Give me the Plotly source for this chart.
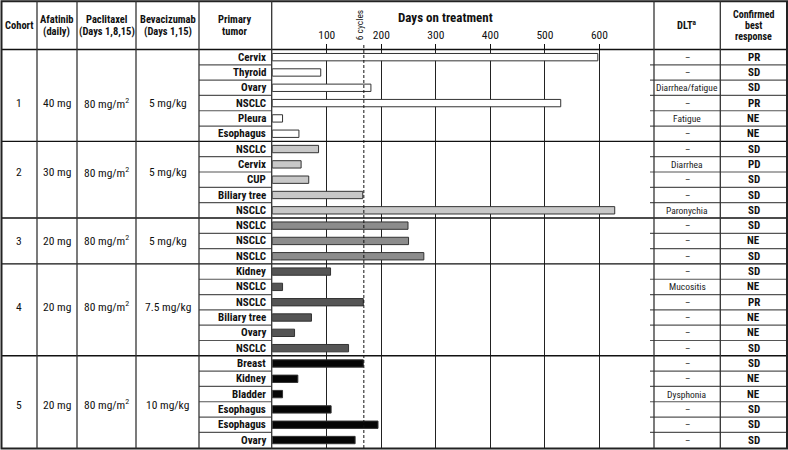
import plotly.graph_objects as go

W, H = 788, 450

cohorts = ["1", "2", "3", "4", "5"]
afatinib = ["40 mg", "30 mg", "20 mg", "20 mg", "20 mg"]
paclitaxel = ["80 mg/m<sup>2</sup>"] * 5
bevacizumab = ["5 mg/kg", "5 mg/kg", "5 mg/kg", "7.5 mg/kg", "10 mg/kg"]

tumors = [
    ["Cervix", "Thyroid", "Ovary", "NSCLC", "Pleura", "Esophagus"],
    ["NSCLC", "Cervix", "CUP", "Biliary tree", "NSCLC"],
    ["NSCLC", "NSCLC", "NSCLC"],
    ["Kidney", "NSCLC", "NSCLC", "Biliary tree", "Ovary", "NSCLC"],
    ["Breast", "Kidney", "Bladder", "Esophagus", "Esophagus", "Ovary"],
]
days = [
    [597, 89, 181, 529, 19, 49],
    [85, 53, 67, 166, 628],
    [249, 250, 278],
    [107, 19, 167, 72, 41, 140],
    [167, 47, 19, 108, 194, 152],
]
dlt = [
    ["–", "–", "Diarrhea/fatigue", "–", "Fatigue", "–"],
    ["–", "Diarrhea", "–", "–", "Paronychia"],
    ["–", "–", "–"],
    ["–", "Mucositis", "–", "–", "–", "–"],
    ["–", "–", "Dysphonia", "–", "–", "–"],
]
response = [
    ["PR", "SD", "SD", "PR", "NE", "NE"],
    ["SD", "PD", "SD", "SD", "SD"],
    ["SD", "NE", "SD"],
    ["SD", "NE", "PR", "NE", "NE", "SD"],
    ["SD", "NE", "NE", "SD", "SD", "SD"],
]
tick_vals = [100, 200, 300, 400, 500, 600]
six_cycles = 168
x_max = 700

colors = ["#ffffff", "#c8c8c8", "#8c8c8c", "#555555", "#050505"]
label_shift = [0.5, -0.5, 0.0, -0.2, 0.2]

FONT = "Roboto Condensed, Liberation Sans Narrow, DejaVu Sans Condensed, sans-serif"


def X(px):
    return px / W


def Y(py):
    return 1 - py / H


def note(x, y, text, size, xref="paper", yref="paper", xanchor="center", color="#111", **kw):
    d = dict(x=x, y=y, xref=xref, yref=yref, text=text, showarrow=False,
             xanchor=xanchor, yanchor="middle", font=dict(family=FONT, size=size, color=color))
    d.update(kw)
    return d


top_px, bot_px = 49.5, 447.7
n_rows = sum(len(t) for t in tumors)

fig = go.Figure()
shapes = []
ann = []

row = 0
for ci, c in enumerate(cohorts):
    n = len(tumors[ci])
    rows = list(range(row, row + n))
    fig.add_trace(go.Bar(
        x=days[ci], y=rows, orientation="h", width=0.48,
        marker=dict(color=colors[ci], line=dict(color="#333333", width=1)),
        showlegend=False, hoverinfo="x",
    ))
    mid = (rows[0] + rows[-1]) / 2 + label_shift[ci]
    for xc, txt in [(19, c), (57, afatinib[ci]), (106.5, paclitaxel[ci]), (167.5, bevacizumab[ci])]:
        ann.append(note(X(xc), mid, txt, 11.5, yref="y"))
    for k, r in enumerate(rows):
        ann.append(note(X(268), r, "<b>%s</b>" % tumors[ci][k], 11, yref="y", xanchor="right"))
        ann.append(note(X(687), r, dlt[ci][k], 9.5, yref="y", color="#222"))
        ann.append(note(X(753.5), r, "<b>%s</b>" % response[ci][k], 11, yref="y"))
        if k > 0:
            for x0, x1 in [(199, 271.7), (650, 787)]:
                shapes.append(dict(type="line", xref="paper", yref="y", x0=X(x0), x1=X(x1),
                                   y0=r - 0.5, y1=r - 0.5, line=dict(color="#555", width=1.2)))
    if ci > 0:
        shapes.append(dict(type="line", xref="paper", yref="y", x0=X(1.5), x1=X(787),
                           y0=row - 0.5, y1=row - 0.5, line=dict(color="#111", width=1.4)))
    row += n

# header line and outer border
shapes.append(dict(type="line", xref="paper", yref="paper", x0=X(1.5), x1=X(787),
                   y0=Y(top_px), y1=Y(top_px), line=dict(color="#111", width=1.4)))
shapes.append(dict(type="rect", xref="paper", yref="paper", x0=X(1.5), x1=X(787),
                   y0=Y(448.5), y1=Y(1.2), line=dict(color="#222", width=2)))
for xv in [37, 77, 136, 199, 271.7, 654, 720.3]:
    shapes.append(dict(type="line", xref="paper", yref="paper", x0=X(xv), x1=X(xv),
                       y0=Y(448.5), y1=Y(1.2), line=dict(color="#333", width=1.3)))
# 6 cycles dashed line
shapes.append(dict(type="line", xref="x", yref="paper", x0=six_cycles, x1=six_cycles,
                   y0=Y(448), y1=Y(45), line=dict(color="#111", width=1, dash="3px,2px")))
ann.append(note(six_cycles, Y(24.5), "6 cycles", 9.5, xref="x", textangle=-90, xshift=-4))

# headers
hdr = [
    (19, 25, "<b>Cohort</b>", 10.5),
    (57, 19.5, "<b>Afatinib</b>", 10.5), (57, 31.5, "<b>(daily)</b>", 10.5),
    (106.5, 19.5, "<b>Paclitaxel</b>", 10.5), (106.5, 31.5, "<b>(Days 1,8,15)</b>", 10.5),
    (167.5, 19.5, "<b>Bevacizumab</b>", 10.5), (167.5, 31.5, "<b>(Days 1,15)</b>", 10.5),
    (235, 19.5, "<b>Primary</b>", 10.5), (235, 31.5, "<b>tumor</b>", 10.5),
    (445, 17, "<b>Days on treatment</b>", 13),
    (687, 25, "<b>DLT<sup>a</sup></b>", 10.5),
    (753.5, 14.5, "<b>Confirmed</b>", 10), (753.5, 25.5, "<b>best</b>", 10),
    (753.5, 36.5, "<b>response</b>", 10),
]
for xc, yc, txt, size in hdr:
    ann.append(note(X(xc), Y(yc), txt, size))

fig.update_layout(
    width=W, height=H, margin=dict(l=0, r=0, t=0, b=0),
    paper_bgcolor="white", plot_bgcolor="white",
    barmode="overlay",
    shapes=shapes, annotations=ann,
    xaxis=dict(domain=[X(272.2), X(654)], range=[0, x_max], side="top",
               tickvals=tick_vals, ticks="outside", ticklen=5, tickcolor="#111",
               showgrid=True, gridcolor="#222", gridwidth=1.2, zeroline=False,
               showline=False, tickfont=dict(family=FONT, size=11.5, color="#111")),
    yaxis=dict(domain=[Y(bot_px), Y(top_px)], range=[n_rows - 0.5, -0.5],
               showticklabels=False, showgrid=False, zeroline=False, ticks=""),
)

fig.write_html("out.html", config={"displayModeBar": False},
               post_script="document.body.style.margin='0';")
